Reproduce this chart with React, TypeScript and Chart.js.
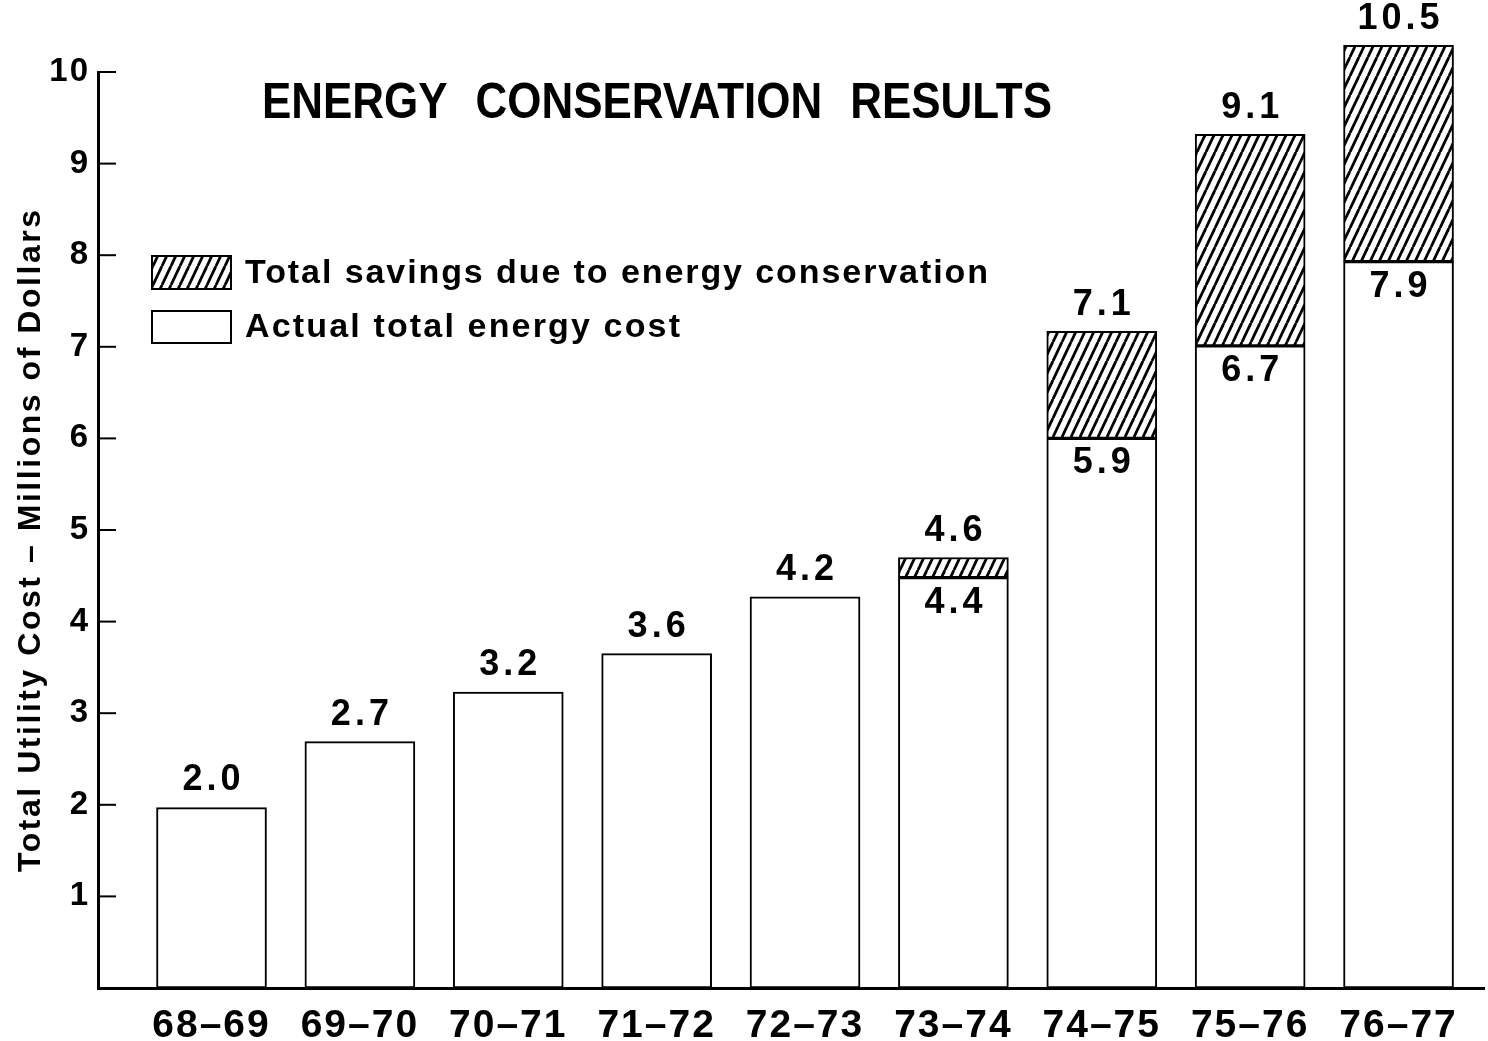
import React, { useEffect, useRef } from 'react';
import { Chart, registerables } from 'chart.js';

Chart.register(...registerables);

// ---- data ----
const periods = ['68–69', '69–70', '70–71', '71–72', '72–73', '73–74', '74–75', '75–76', '76–77'];
// bar heights as drawn (millions of dollars)
const actualCost = [1.97, 2.69, 3.23, 3.65, 4.27, 4.48, 6.0, 7.01, 7.93];
const savings: (number | null)[] = [null, null, null, null, null, 0.22, 1.17, 2.31, 2.36];
// printed value labels
const actualLabels = ['2.0', '2.7', '3.2', '3.6', '4.2', '4.4', '5.9', '6.7', '7.9'];
const totalLabels: (string | null)[] = [null, null, null, null, null, '4.6', '7.1', '9.1', '10.5'];
const yTicks = [1, 2, 3, 4, 5, 6, 7, 8, 9, 10];
const chartTitle = 'ENERGY CONSERVATION RESULTS';
const yAxisTitle = 'Total Utility Cost – Millions of Dollars';
const savingsLabel = 'Total savings due to energy conservation';
const actualLabel = 'Actual total energy cost';

const FONT = '"Liberation Sans", Arial, Helvetica, sans-serif';
const NARROW = '"Liberation Sans Narrow", "Liberation Sans", Arial, sans-serif';

function makeHatch(): CanvasPattern | string {
  const W = 9, H = 19;
  const c = document.createElement('canvas');
  c.width = W; c.height = H;
  const g = c.getContext('2d');
  if (!g) return '#888';
  g.fillStyle = '#fff';
  g.fillRect(0, 0, W, H);
  g.strokeStyle = '#000';
  g.lineWidth = 2.8;
  for (const dx of [-W, 0, W]) {
    g.beginPath();
    g.moveTo(dx, H);
    g.lineTo(dx + W, 0);
    g.stroke();
  }
  return g.createPattern(c, 'repeat') || '#888';
}

function drawCentered(ctx: CanvasRenderingContext2D, text: string, cx: number, cy: number, ls: number) {
  ctx.letterSpacing = '0px';
  const w0 = ctx.measureText(text).width;
  const n = [...text].length;
  const total = w0 + ls * (n - 1);
  ctx.letterSpacing = ls + 'px';
  ctx.textAlign = 'left';
  ctx.textBaseline = 'middle';
  ctx.fillText(text, cx - total / 2, cy);
  ctx.letterSpacing = '0px';
}

function drawFitLeft(ctx: CanvasRenderingContext2D, text: string, x: number, cy: number, width: number) {
  ctx.letterSpacing = '0px';
  const w0 = ctx.measureText(text).width;
  const n = [...text].length;
  const ls = (width - w0) / Math.max(1, n - 1);
  ctx.letterSpacing = ls + 'px';
  ctx.textAlign = 'left';
  ctx.textBaseline = 'middle';
  ctx.fillText(text, x, cy);
  ctx.letterSpacing = '0px';
}

const spacingPlugin = {
  id: 'spacing',
  beforeDraw(chart: any) {
    chart.ctx.letterSpacing = '2px';
  },
  afterDraw(chart: any) {
    chart.ctx.letterSpacing = '0px';
  },
};

const decorPlugin = {
  id: 'decor',
  afterDraw(chart: any) {
    const ctx: CanvasRenderingContext2D = chart.ctx;
    const ca = chart.chartArea;
    ctx.save();
    ctx.letterSpacing = '0px';
    ctx.fillStyle = '#000';
    ctx.strokeStyle = '#000';

    // inward tick marks on the y axis
    const ys = chart.scales.y;
    ctx.lineWidth = 2;
    ys.ticks.forEach((t: any) => {
      const py = ys.getPixelForValue(t.value);
      ctx.beginPath();
      ctx.moveTo(ca.left, py);
      ctx.lineTo(ca.left + 18, py);
      ctx.stroke();
    });

    // value labels
    const m0 = chart.getDatasetMeta(0);
    const m1 = chart.getDatasetMeta(1);
    ctx.font = `bold 36px ${FONT}`;
    actualLabels.forEach((lab, i) => {
      const bar = m0.data[i];
      if (!bar) return;
      if (savings[i] == null) {
        drawCentered(ctx, lab, bar.x, bar.y - 27, 4);
      } else {
        drawCentered(ctx, lab, bar.x, bar.y + 25, 4);
        const top = m1.data[i];
        const tl = totalLabels[i];
        if (top && tl) drawCentered(ctx, tl, top.x, top.y - 26, 4);
      }
    });

    // chart title (condensed)
    ctx.font = `bold 50px ${NARROW}`;
    ctx.letterSpacing = '0px';
    (ctx as any).wordSpacing = '18px';
    const tw = ctx.measureText(chartTitle).width;
    const targetW = 790;
    ctx.save();
    ctx.translate(262, 104);
    ctx.scale(targetW / tw, 1);
    ctx.textAlign = 'left';
    ctx.textBaseline = 'middle';
    ctx.fillText(chartTitle, 0, 0);
    ctx.restore();
    (ctx as any).wordSpacing = '0px';

    // y axis title
    ctx.save();
    ctx.translate(31, 541);
    ctx.rotate(-Math.PI / 2);
    ctx.font = `bold 32px ${FONT}`;
    drawFitLeft(ctx, yAxisTitle, -331, 0, 662);
    ctx.restore();

    // legend
    const ds = chart.data.datasets;
    const items = [
      { fill: ds[1].backgroundColor, text: ds[1].label, y: 256, h: 33, tw: 743 },
      { fill: ds[0].backgroundColor, text: ds[0].label, y: 311, h: 32, tw: 435 },
    ];
    items.forEach((it) => {
      ctx.fillStyle = it.fill;
      ctx.fillRect(152, it.y, 79, it.h);
      ctx.lineWidth = 2;
      ctx.strokeStyle = '#000';
      ctx.strokeRect(152, it.y, 79, it.h);
      ctx.fillStyle = '#000';
      ctx.font = `bold 34px ${FONT}`;
      drawFitLeft(ctx, it.text, 245, it.y + it.h / 2 + 1, it.tw);
    });

    ctx.restore();
  },
};

export default function App() {
  const ref = useRef<HTMLCanvasElement | null>(null);

  useEffect(() => {
    if (!ref.current) return;
    const hatch = makeHatch();
    const chart = new Chart(ref.current, {
      type: 'bar',
      data: {
        datasets: [
          {
            label: actualLabel,
            data: actualCost.map((v, i) => ({ x: i, y: v })),
            backgroundColor: '#ffffff',
            borderColor: '#000000',
            borderWidth: 2,
            borderSkipped: false,
            barThickness: 110,
            clip: false,
          } as any,
          {
            label: savingsLabel,
            data: savings.map((v, i) => ({ x: i, y: v })),
            backgroundColor: hatch,
            borderColor: '#000000',
            borderWidth: 2,
            borderSkipped: false,
            barThickness: 110,
            clip: false,
          } as any,
        ],
      },
      options: {
        responsive: false,
        animation: false,
        layout: { padding: { top: 72, right: 4, left: 0, bottom: 0 } },
        plugins: {
          legend: { display: false },
          title: { display: false },
          tooltip: { enabled: false },
        },
        scales: {
          x: {
            type: 'linear',
            min: -0.765,
            max: 8.576,
            stacked: true,
            offset: false,
            grid: { display: false, drawTicks: false },
            border: { display: true, color: '#000', width: 3 },
            afterBuildTicks: (s: any) => {
              s.ticks = periods.map((_, i) => ({ value: i }));
            },
            afterFit: (s: any) => {
              s.height = 53;
            },
            ticks: {
              autoSkip: false,
              maxRotation: 0,
              minRotation: 0,
              padding: 15,
              color: '#000',
              font: { family: FONT, size: 39, weight: 'bold' },
              callback: (v: any) => periods[v as number] ?? '',
            },
          },
          y: {
            type: 'linear',
            min: 0,
            max: 10,
            stacked: true,
            grid: { display: false, drawTicks: false },
            border: { display: true, color: '#000', width: 3 },
            afterBuildTicks: (s: any) => {
              s.ticks = yTicks.map((v) => ({ value: v }));
            },
            afterFit: (s: any) => {
              s.width = 98;
            },
            ticks: {
              padding: 8,
              color: '#000',
              font: { family: FONT, size: 33, weight: 'bold' },
              callback: (v: any) => String(v),
            },
          },
        } as any,
      },
      plugins: [spacingPlugin, decorPlugin],
    });
    return () => chart.destroy();
  }, []);

  return (
    <div style={{ position: 'fixed', left: 0, top: 0, width: 1488, height: 1041, background: '#fff' }}>
      <canvas ref={ref} width={1488} height={1041} style={{ display: 'block' }} />
    </div>
  );
}
